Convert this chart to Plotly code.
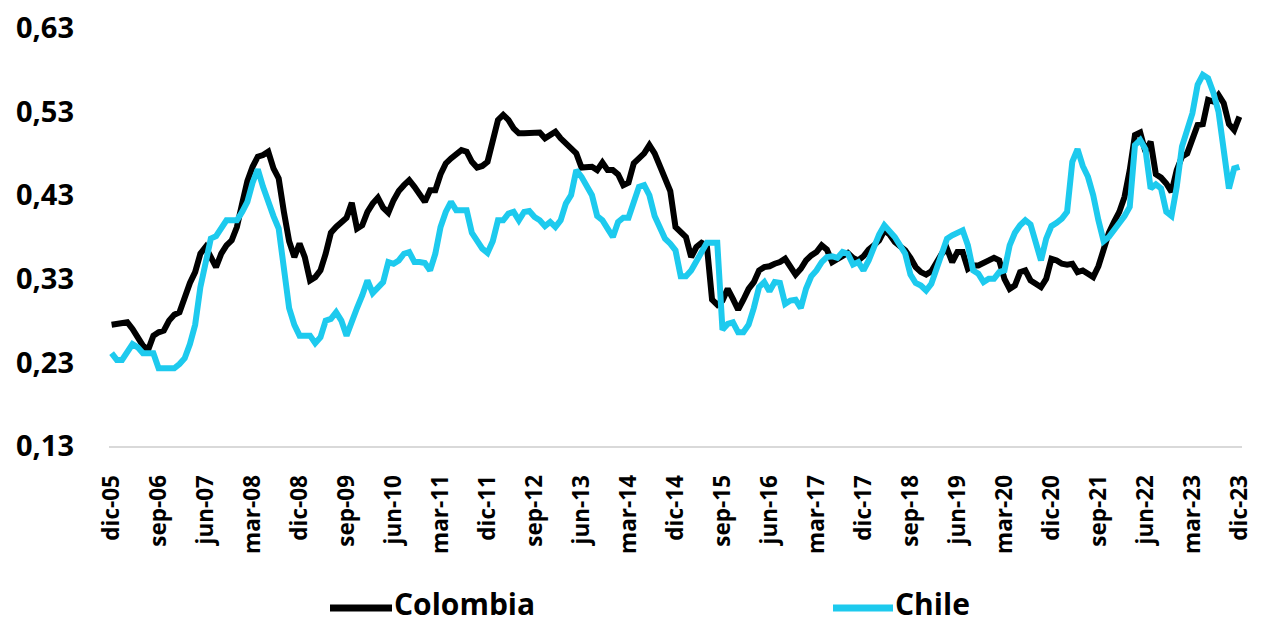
import plotly.graph_objects as go

# Monthly categories: dic-05 ... dic-23
MESES = ["ene", "feb", "mar", "abr", "may", "jun", "jul", "ago", "sep", "oct", "nov", "dic"]
months = []
y, m = 2005, 11
for _ in range(217):
    months.append(f"{MESES[m]}-{y % 100:02d}")
    m += 1
    if m == 12:
        m, y = 0, y + 1

tick_labels = months[::9]

colombia = [
    0.275, 0.276, 0.276, 0.278, 0.270, 0.260, 0.250, 0.245, 0.262, 0.266,
    0.268, 0.280, 0.287, 0.290, 0.310, 0.325, 0.338, 0.360, 0.368, 0.355,
    0.344, 0.360, 0.370, 0.376, 0.392, 0.420, 0.447, 0.464, 0.476, 0.478,
    0.482, 0.462, 0.450, 0.410, 0.375, 0.356, 0.372, 0.356, 0.328, 0.332,
    0.340, 0.360, 0.385, 0.392, 0.398, 0.403, 0.421, 0.390, 0.394, 0.410,
    0.420, 0.427, 0.415, 0.409, 0.424, 0.435, 0.442, 0.448, 0.440, 0.430,
    0.422, 0.436, 0.436, 0.455, 0.468, 0.474, 0.480, 0.484, 0.482, 0.470,
    0.463, 0.465, 0.470, 0.495, 0.520, 0.526, 0.520, 0.510, 0.504, 0.504,
    0.504, 0.505, 0.505, 0.498, 0.502, 0.506, 0.498, 0.492, 0.487, 0.480,
    0.463, 0.463, 0.464, 0.460, 0.469, 0.460, 0.460, 0.455, 0.442, 0.445,
    0.468, 0.474, 0.480, 0.490, 0.480, 0.465, 0.452, 0.435, 0.392, 0.386,
    0.380, 0.356, 0.368, 0.373, 0.370, 0.305, 0.299, 0.304, 0.318, 0.306,
    0.293, 0.305, 0.318, 0.326, 0.340, 0.344, 0.345, 0.348, 0.350, 0.354,
    0.345, 0.335, 0.342, 0.352, 0.358, 0.362, 0.370, 0.365, 0.350, 0.354,
    0.358, 0.361, 0.355, 0.352, 0.357, 0.365, 0.370, 0.376, 0.388, 0.383,
    0.374, 0.368, 0.364, 0.355, 0.344, 0.338, 0.335, 0.339, 0.350, 0.360,
    0.366, 0.350, 0.362, 0.362, 0.342, 0.346, 0.346, 0.350, 0.352, 0.355,
    0.352, 0.330, 0.318, 0.322, 0.338, 0.340, 0.328, 0.324, 0.320, 0.330,
    0.354, 0.352, 0.348, 0.347, 0.348, 0.338, 0.340, 0.336, 0.332, 0.345,
    0.368, 0.385, 0.398, 0.410, 0.428, 0.460, 0.502, 0.505, 0.482, 0.494,
    0.455, 0.451, 0.444, 0.434, 0.460, 0.476, 0.480, 0.495, 0.514, 0.515,
    0.544, 0.542, 0.550, 0.540, 0.515, 0.508, 0.524,
]

chile = [
    0.241, 0.233, 0.233, 0.243, 0.252, 0.248, 0.241, 0.241, 0.241, 0.223,
    0.223, 0.223, 0.223, 0.228, 0.235, 0.252, 0.275, 0.320, 0.350, 0.378,
    0.381, 0.390, 0.400, 0.400, 0.400, 0.410, 0.422, 0.445, 0.461, 0.440,
    0.420, 0.405, 0.390, 0.345, 0.295, 0.275, 0.262, 0.262, 0.262, 0.253,
    0.260, 0.280, 0.282, 0.290, 0.280, 0.262, 0.280, 0.295, 0.310, 0.328,
    0.313, 0.320, 0.326, 0.350, 0.348, 0.352, 0.360, 0.362, 0.350, 0.350,
    0.349, 0.340, 0.360, 0.392, 0.410, 0.422, 0.412, 0.412, 0.412, 0.385,
    0.375, 0.366, 0.361, 0.375, 0.400, 0.400, 0.408, 0.410, 0.400, 0.410,
    0.411, 0.404, 0.400, 0.393, 0.398, 0.392, 0.400, 0.420, 0.430, 0.460,
    0.452, 0.440, 0.430, 0.405, 0.400, 0.390, 0.380, 0.398, 0.403, 0.403,
    0.420, 0.440, 0.442, 0.430, 0.405, 0.390, 0.378, 0.372, 0.364, 0.333,
    0.333, 0.340, 0.352, 0.364, 0.373, 0.373, 0.373, 0.269, 0.276, 0.278,
    0.266, 0.266, 0.275, 0.295, 0.320, 0.326, 0.315, 0.326, 0.325, 0.300,
    0.304, 0.305, 0.295, 0.318, 0.333, 0.340, 0.350, 0.356, 0.357, 0.355,
    0.362, 0.360, 0.347, 0.350, 0.340, 0.352, 0.370, 0.383, 0.394, 0.388,
    0.380, 0.370, 0.360, 0.335, 0.325, 0.322, 0.316, 0.324, 0.342, 0.365,
    0.378, 0.382, 0.385, 0.388, 0.370, 0.340, 0.336, 0.326, 0.330, 0.330,
    0.338, 0.340, 0.370, 0.385, 0.394, 0.400, 0.395, 0.375, 0.352, 0.378,
    0.393, 0.397, 0.402, 0.410, 0.470, 0.485, 0.465, 0.452, 0.430, 0.400,
    0.375, 0.380, 0.388, 0.397, 0.405, 0.416, 0.490, 0.496, 0.485, 0.438,
    0.443, 0.438, 0.410, 0.405, 0.440, 0.488, 0.508, 0.528, 0.562, 0.574,
    0.570, 0.553, 0.530, 0.484, 0.438, 0.462, 0.464,
]

series_names = ["Colombia", "Chile"]

y_ticks = [0.13, 0.23, 0.33, 0.43, 0.53, 0.63]
y_tick_text = [f"{v:.2f}".replace(".", ",") for v in y_ticks]

FONT = "Open Sans"
BLACK = "#000000"
CYAN = "#1DCAEE"

W, H = 1263, 627
ML, MR, MT, MB = 109, 21, 28, 181
PW, PH = W - ML - MR, H - MT - MB


def px_x(p):
    return (p - ML) / PW


def px_y(p):
    return (H - MB - p) / PH


fig = go.Figure()
fig.add_trace(go.Scatter(x=months, y=colombia, mode="lines", name=series_names[0],
                         line=dict(color=BLACK, width=6)))
fig.add_trace(go.Scatter(x=months, y=chile, mode="lines", name=series_names[1],
                         line=dict(color=CYAN, width=6)))

# Legend drawn manually to match the wide spacing of the original
legend_items = [(series_names[0], BLACK, 330, 392), (series_names[1], CYAN, 833, 893)]
shapes, annotations = [], []
for name, col, x0, x1 in legend_items:
    shapes.append(dict(type="line", xref="paper", yref="paper",
                       x0=px_x(x0), x1=px_x(x1), y0=px_y(608), y1=px_y(608),
                       line=dict(color=col, width=7)))
    annotations.append(dict(text=name, xref="paper", yref="paper",
                            x=px_x(x1 + 1), y=px_y(603), xanchor="left", yanchor="middle",
                            borderpad=0, showarrow=False,
                            font=dict(size=30, family=FONT, color="black", weight="bold")))

fig.update_layout(
    width=W, height=H,
    margin=dict(l=ML, r=MR, t=MT, b=MB),
    paper_bgcolor="white", plot_bgcolor="white",
    font=dict(family=FONT, color="black", size=22, weight="bold"),
    showlegend=False,
    shapes=shapes, annotations=annotations,
)
fig.update_xaxes(
    type="category", categoryorder="array", categoryarray=months,
    range=[-0.5, 216.5], automargin=False,
    tickmode="array", tickvals=tick_labels, ticktext=tick_labels,
    tickangle=-90, ticks="", showgrid=False,
    showline=True, linecolor="#d9d9d9", linewidth=2,
    tickfont=dict(size=22.5, family=FONT, weight="bold"),
    ticklabelstandoff=18,
)
fig.update_yaxes(
    range=[0.13, 0.63], automargin=False,
    tickmode="array", tickvals=y_ticks, ticktext=y_tick_text,
    showgrid=False, zeroline=False, showline=False, ticks="",
    tickfont=dict(size=29, family=FONT, weight="bold"),
    ticklabelstandoff=34,
)

fig.write_html(
    "out.html",
    config={"displayModeBar": False},
    post_script="document.body.style.margin='0';document.body.style.padding='0';",
)
